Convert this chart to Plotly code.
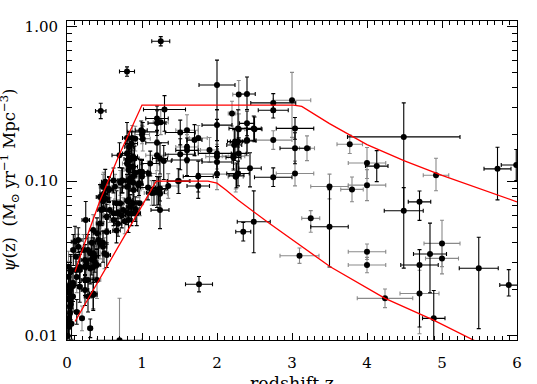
import numpy as np
import plotly.graph_objects as go

# ---- data points: redshift, SFR density, x-error, y-errors (dex up/down), group (0 black, 1 grey bars)
Z = [2.00, 2.29, 2.40, 2.20, 2.75, 3.00, 2.75, 2.40, 2.50, 2.29, 3.04, 2.75, 2.40, 2.27, 2.23, 3.04, 3.20, 2.29, 2.22, 2.44,
     2.28, 2.25, 2.75, 3.04, 2.00, 1.51, 1.60, 1.51, 1.60, 1.60, 1.70, 1.75, 1.75, 1.90, 2.00, 2.00, 2.00, 2.00, 2.28, 2.40,
     2.49, 1.49, 1.75, 1.35,
     1.25, 1.30, 1.01, 1.20, 1.25, 1.20, 1.20, 1.20, 1.24, 1.29, 1.22, 1.13, 1.08, 1.20, 1.24, 1.11, 1.09, 1.00, 1.01, 0.99, 0.97,
     0.91, 0.86, 0.83, 0.88, 0.80, 0.87, 0.82, 0.84, 0.91, 0.84, 0.83, 0.74, 0.71, 0.70, 0.62, 0.64, 0.80, 0.89, 0.95, 0.71,
     0.81, 0.80, 0.91, 0.97, 0.93, 0.73, 0.77, 0.86, 0.66, 0.62, 0.70,
     0.80, 0.45,
     0.56, 0.49, 0.49, 0.52, 0.51, 0.48, 0.56, 0.44, 0.48, 0.46, 0.53, 0.57, 0.53, 0.40, 0.48, 0.42, 0.33, 0.48, 0.50, 0.53,
     0.35, 0.31, 0.28, 0.33, 0.37, 0.35, 0.40, 0.40, 0.35, 0.28, 0.31, 0.25, 0.26, 0.24, 0.24,
     0.107, 0.15, 0.15, 0.084, 0.12, 0.17, 0.17, 0.13, 0.20, 0.04, 0.03, 0.02, 0.04, 0.08, 0.04, 0.04, 0.12, 0.08, 0.05, 0.02,
     0.01, 0.02, 0.01,
     1.76, 2.35, 2.49, 3.77, 4.49, 4.00, 4.13, 4.00, 3.50, 3.80, 4.92, 5.74, 5.99, 4.70, 4.49, 3.25, 3.50, 5.00, 4.84, 5.00,
     4.70, 4.00, 4.00, 3.10, 5.49, 5.89, 4.24, 4.70, 4.89,
     0.84, 0.82, 0.73, 0.96, 0.82, 0.48, 0.66, 0.84, 0.68, 0.05, 0.13, 0.08, 0.80, 0.80, 0.88, 0.90, 0.88, 0.88, 1.16, 1.24,
     2.24, 2.26, 1.00, 1.00, 1.00, 1.60, 1.24, 1.48, 2.22, 2.25, 2.28, 0.44, 0.35, 0.62, 0.68, 0.75, 0.82, 0.88, 0.44, 0.37,
     0.24, 0.22, 0.17, 0.31, 0.28, 0.24, 0.35, 0.02, 0.03, 0.05, 0.01, 0.06]
SFR = [0.418, 0.363, 0.365, 0.273, 0.320, 0.333, 0.287, 0.236, 0.216, 0.216, 0.219, 0.184, 0.182, 0.178, 0.171, 0.163, 0.163, 0.151, 0.145, 0.121,
       0.112, 0.107, 0.106, 0.112, 0.230, 0.206, 0.213, 0.149, 0.166, 0.137, 0.184, 0.190, 0.107, 0.159, 0.151, 0.144, 0.133, 0.111, 0.219, 0.184,
       0.219, 0.100, 0.093, 0.093,
       0.80, 0.290, 0.208, 0.254, 0.240, 0.237, 0.177, 0.147, 0.140, 0.135, 0.0886, 0.0838, 0.091, 0.085, 0.065, 0.130, 0.112, 0.113, 0.188, 0.213, 0.115,
       0.188, 0.175, 0.166, 0.144, 0.190, 0.190, 0.139, 0.124, 0.113, 0.104, 0.099, 0.101, 0.0975, 0.147, 0.101, 0.092, 0.092, 0.0875, 0.094, 0.072,
       0.074, 0.063, 0.066, 0.072, 0.062, 0.060, 0.055, 0.062, 0.048, 0.056, 0.0094,
       0.51, 0.284,
       0.089, 0.095, 0.083, 0.077, 0.099, 0.092, 0.0877, 0.079, 0.066, 0.065, 0.059, 0.065, 0.047, 0.046, 0.040, 0.0416, 0.040, 0.0377, 0.0342, 0.0333,
       0.0342, 0.0342, 0.0359, 0.0312, 0.0302, 0.0279, 0.0287, 0.0230, 0.0184, 0.0180, 0.0112, 0.056, 0.0294, 0.0279, 0.0230,
       0.0406, 0.0377, 0.0416, 0.0359, 0.0325, 0.0279, 0.0208, 0.0143, 0.0130, 0.0155, 0.0115, 0.0241, 0.0198, 0.0180, 0.0170, 0.0140, 0.0267, 0.0220, 0.0267, 0.0210,
       0.0175, 0.0125, 0.0100,
       0.0216, 0.0471, 0.0546, 0.173, 0.193, 0.131, 0.125, 0.0942, 0.0923, 0.0884, 0.109, 0.120, 0.127, 0.0735, 0.0643, 0.0575, 0.0507, 0.0396, 0.0338, 0.0317,
       0.0287, 0.0350, 0.0287, 0.0330, 0.0274, 0.0213, 0.0175, 0.0188, 0.0130,
       0.137, 0.118, 0.101, 0.097, 0.0754, 0.074, 0.072, 0.068, 0.063, 0.026, 0.024, 0.021, 0.151, 0.130, 0.124, 0.140, 0.098, 0.107, 0.084, 0.083,
       0.180, 0.109, 0.200, 0.115, 0.107, 0.158, 0.0895, 0.100, 0.142, 0.107, 0.180, 0.0533, 0.0483, 0.062, 0.053, 0.065, 0.056, 0.072, 0.0396, 0.0325,
       0.0309, 0.0359, 0.0267, 0.0273, 0.0230, 0.0198, 0.0188, 0.028, 0.019, 0.016, 0.013, 0.012]
DZ = [0.24, 0.08, 0.11, 0.05, 0.30, 0.25, 0.20, 0.10, 0.10, 0.08, 0.25, 0.25, 0.12, 0.10, 0.10, 0.20, 0.10, 0.10, 0.15, 0.15,
      0.15, 0.10, 0.25, 0.25, 0.20, 0.20, 0.15, 0.20, 0.15, 0.20, 0.10, 0.12, 0.20, 0.12, 0.25, 0.15, 0.20, 0.25, 0.12, 0.12,
      0.10, 0.15, 0.15, 0.12,
      0.12, 0.28, 0.20, 0.15, 0.10, 0.12, 0.15, 0.15, 0.10, 0.10, 0.10, 0.10, 0.10, 0.10, 0.12, 0.12, 0.10, 0.10, 0.10, 0.08, 0.10,
      0.08, 0.08, 0.06, 0.06, 0.06, 0.06, 0.06, 0.05, 0.05, 0.05, 0.05, 0.05, 0.05, 0.10, 0.05, 0.05, 0.05, 0.05, 0.05, 0.05,
      0.05, 0.05, 0.05, 0.05, 0.05, 0.05, 0.05, 0.05, 0.05, 0.05, 0.30,
      0.10, 0.07,
      0.05, 0.05, 0.05, 0.05, 0.05, 0.05, 0.05, 0.05, 0.05, 0.05, 0.05, 0.05, 0.05, 0.05, 0.05, 0.05, 0.05, 0.05, 0.05, 0.05,
      0.05, 0.05, 0.05, 0.05, 0.05, 0.05, 0.05, 0.05, 0.05, 0.05, 0.03, 0.05, 0.05, 0.05, 0.05,
      0.05, 0.05, 0.05, 0.03, 0.03, 0.03, 0.03, 0.03, 0.03, 0.02, 0.02, 0.02, 0.02, 0.02, 0.02, 0.02, 0.03, 0.03, 0.02, 0.02,
      0.01, 0.02, 0.01,
      0.18, 0.10, 0.22, 0.17, 0.75, 0.25, 0.15, 0.25, 0.25, 0.15, 0.17, 0.18, 0.20, 0.15, 0.26, 0.12, 0.25, 0.24, 0.22, 0.22,
      0.25, 0.25, 0.25, 0.26, 0.26, 0.12, 0.37, 0.26, 0.15,
      0.06, 0.06, 0.05, 0.05, 0.05, 0.05, 0.05, 0.05, 0.05, 0.02, 0.03, 0.02, 0.06, 0.06, 0.06, 0.06, 0.05, 0.05, 0.10, 0.10,
      0.10, 0.10, 0.10, 0.08, 0.08, 0.15, 0.10, 0.15, 0.10, 0.10, 0.10, 0.05, 0.05, 0.05, 0.05, 0.05, 0.05, 0.05, 0.05, 0.05,
      0.05, 0.05, 0.03, 0.05, 0.05, 0.05, 0.05, 0.02, 0.02, 0.02, 0.01, 0.02]
UP_DEX = [0.16, 0.09, 0.11, 0.08, 0.06, 0.18, 0.05, 0.08, 0.08, 0.10, 0.07, 0.06, 0.08, 0.09, 0.10, 0.10, 0.08, 0.10, 0.08, 0.10,
          0.08, 0.08, 0.06, 0.08, 0.10, 0.08, 0.10, 0.10, 0.08, 0.10, 0.10, 0.08, 0.10, 0.08, 0.22, 0.08, 0.10, 0.10, 0.12, 0.10,
          0.08, 0.08, 0.08, 0.08,
          0.03, 0.09, 0.06, 0.08, 0.08, 0.08, 0.08, 0.10, 0.10, 0.10, 0.08, 0.08, 0.08, 0.10, 0.12, 0.08, 0.08, 0.08, 0.08, 0.06, 0.08,
          0.08, 0.08, 0.10, 0.08, 0.10, 0.08, 0.10, 0.10, 0.08, 0.08, 0.10, 0.08, 0.08, 0.08, 0.08, 0.08, 0.08, 0.08, 0.08, 0.10,
          0.10, 0.08, 0.08, 0.08, 0.08, 0.08, 0.08, 0.08, 0.08, 0.08, 0.27,
          0.03, 0.05,
          0.08, 0.08, 0.08, 0.08, 0.08, 0.08, 0.08, 0.08, 0.08, 0.10, 0.08, 0.08, 0.08, 0.10, 0.08, 0.10, 0.08, 0.10, 0.10, 0.08,
          0.10, 0.10, 0.10, 0.10, 0.10, 0.10, 0.10, 0.12, 0.10, 0.10, 0.06, 0.12, 0.10, 0.10, 0.10,
          0.10, 0.08, 0.08, 0.10, 0.10, 0.10, 0.10, 0.08, 0.08, 0.10, 0.10, 0.10, 0.10, 0.10, 0.10, 0.10, 0.10, 0.10, 0.10, 0.10,
          0.10, 0.10, 0.08,
          0.05, 0.06, 0.20, 0.06, 0.22, 0.10, 0.10, 0.10, 0.08, 0.08, 0.11, 0.14, 0.10, 0.07, 0.15, 0.05, 0.24, 0.15, 0.20, 0.10,
          0.10, 0.05, 0.05, 0.05, 0.20, 0.10, 0.06, 0.15, 0.18,
          0.08, 0.08, 0.08, 0.08, 0.10, 0.08, 0.08, 0.08, 0.08, 0.10, 0.10, 0.10, 0.08, 0.08, 0.08, 0.08, 0.08, 0.08, 0.08, 0.08,
          0.08, 0.08, 0.06, 0.08, 0.08, 0.08, 0.08, 0.08, 0.08, 0.08, 0.08, 0.10, 0.10, 0.08, 0.08, 0.08, 0.08, 0.08, 0.10, 0.10,
          0.10, 0.10, 0.10, 0.10, 0.10, 0.10, 0.10, 0.10, 0.10, 0.10, 0.10, 0.10]
DN_DEX = [0.16, 0.10, 0.10, 0.08, 0.06, 0.24, 0.05, 0.08, 0.08, 0.10, 0.07, 0.06, 0.08, 0.09, 0.10, 0.10, 0.08, 0.12, 0.08, 0.12,
          0.08, 0.10, 0.06, 0.08, 0.10, 0.08, 0.10, 0.10, 0.08, 0.10, 0.10, 0.08, 0.10, 0.08, 0.12, 0.08, 0.10, 0.10, 0.12, 0.10,
          0.08, 0.08, 0.08, 0.08,
          0.03, 0.14, 0.06, 0.08, 0.08, 0.08, 0.08, 0.10, 0.10, 0.12, 0.10, 0.08, 0.08, 0.10, 0.12, 0.08, 0.08, 0.08, 0.08, 0.06, 0.08,
          0.08, 0.08, 0.10, 0.08, 0.10, 0.08, 0.10, 0.10, 0.08, 0.08, 0.10, 0.08, 0.08, 0.08, 0.08, 0.08, 0.08, 0.08, 0.08, 0.10,
          0.10, 0.08, 0.08, 0.08, 0.08, 0.08, 0.08, 0.08, 0.08, 0.08, 0.00,
          0.03, 0.05,
          0.08, 0.08, 0.08, 0.08, 0.08, 0.08, 0.08, 0.08, 0.08, 0.10, 0.08, 0.08, 0.08, 0.10, 0.08, 0.10, 0.08, 0.10, 0.10, 0.08,
          0.10, 0.10, 0.10, 0.10, 0.10, 0.10, 0.10, 0.12, 0.10, 0.10, 0.06, 0.12, 0.10, 0.10, 0.10,
          0.10, 0.08, 0.08, 0.10, 0.10, 0.10, 0.10, 0.08, 0.08, 0.10, 0.10, 0.10, 0.10, 0.10, 0.10, 0.10, 0.10, 0.10, 0.10, 0.10,
          0.10, 0.10, 0.08,
          0.05, 0.06, 0.20, 0.06, 0.48, 0.10, 0.10, 0.10, 0.08, 0.08, 0.10, 0.20, 0.10, 0.12, 0.37, 0.09, 0.26, 0.15, 0.25, 0.10,
          0.40, 0.05, 0.05, 0.05, 0.39, 0.07, 0.06, 0.26, 0.20,
          0.08, 0.08, 0.08, 0.08, 0.10, 0.08, 0.08, 0.08, 0.08, 0.10, 0.10, 0.10, 0.08, 0.08, 0.08, 0.08, 0.08, 0.08, 0.08, 0.08,
          0.08, 0.08, 0.06, 0.08, 0.08, 0.08, 0.08, 0.08, 0.08, 0.08, 0.08, 0.10, 0.10, 0.08, 0.08, 0.08, 0.08, 0.08, 0.10, 0.10,
          0.10, 0.10, 0.10, 0.10, 0.10, 0.10, 0.10, 0.10, 0.10, 0.10, 0.10, 0.10]
GRP = [0, 1, 0, 1, 0, 1, 0, 0, 0, 1, 0, 1, 0, 1, 0, 0, 1, 0, 1, 0,
       0, 1, 0, 1, 0, 0, 1, 0, 1, 0, 0, 1, 0, 1, 0, 1, 0, 1, 0, 1,
       0, 0, 0, 1,
       0, 0, 0, 0, 1, 0, 0, 1, 0, 0, 0, 1, 0, 0, 0, 0, 1, 0, 1, 0, 0,
       1, 0, 0, 0, 0, 1, 0, 0, 1, 0, 0, 0, 1, 0, 0, 1, 0, 0, 1, 0,
       1, 0, 0, 1, 0, 0, 1, 0, 0, 1, 1,
       0, 0,
       0, 1, 0, 0, 0, 1, 0, 0, 1, 0, 0, 1, 0, 0, 1, 0, 0, 0, 1, 0,
       0, 1, 0, 0, 1, 0, 0, 1, 0, 0, 0, 0, 1, 0, 0,
       0, 1, 0, 0, 1, 0, 0, 0, 1, 0, 0, 1, 0, 0, 1, 0, 0, 1, 0, 0,
       1, 0, 0,
       0, 0, 0, 1, 0, 1, 0, 1, 1, 1, 1, 0, 0, 0, 0, 1, 0, 1, 0, 1,
       0, 1, 1, 1, 0, 0, 1, 1, 0,
       0, 1, 0, 0, 0, 1, 0, 0, 1, 0, 1, 0, 0, 1, 0, 0, 1, 0, 0, 1,
       0, 0, 1, 0, 1, 0, 0, 1, 0, 1, 0, 0, 1, 0, 0, 1, 0, 0, 1, 0,
       0, 1, 0, 0, 1, 0, 0, 1, 0, 0, 1, 0]

# ---- red envelope curves
UPPER_Z = [0.107, 0.25, 0.44, 0.70, 1.00, 3.02, 3.13, 3.50, 4.00, 4.50, 5.00, 5.50, 6.00]
UPPER_V = [0.026, 0.0417, 0.075, 0.149, 0.31, 0.31, 0.304, 0.235, 0.172, 0.135, 0.109, 0.089, 0.0735]
LOWER_Z = [0.107, 1.19, 1.88, 2.00, 2.12, 2.28, 2.71, 3.10, 3.51, 4.24, 4.88, 5.44]
LOWER_V = [0.0124, 0.100, 0.100, 0.097, 0.0875, 0.0754, 0.0528, 0.0385, 0.028, 0.0175, 0.0127, 0.0093]

z = np.array(Z, float)
v = np.array(SFR, float)
dz = np.array(DZ, float)
up = v * (10 ** np.array(UP_DEX) - 1)
dn = v * (1 - 10 ** -np.array(DN_DEX))
grp = np.array(GRP)

fig = go.Figure()
for g, col in [(1, "#8a8a8a"), (0, "#000000")]:
    m = grp == g
    fig.add_trace(go.Scatter(
        x=z[m], y=v[m], mode="markers",
        marker=dict(color="black", size=6),
        error_x=dict(type="data", array=dz[m], color=col, thickness=1.1, width=2),
        error_y=dict(type="data", array=up[m], arrayminus=dn[m], color=col, thickness=1.1, width=2),
        showlegend=False, hoverinfo="skip"))

for zz, vv in [(UPPER_Z, UPPER_V), (LOWER_Z, LOWER_V)]:
    fig.add_trace(go.Scatter(x=zz, y=vv, mode="lines",
                             line=dict(color="#ff0000", width=1.3),
                             showlegend=False, hoverinfo="skip"))

FONT = "DejaVu Serif"
fig.update_layout(
    width=537, height=384,
    margin=dict(l=67, r=20, t=21, b=44),
    paper_bgcolor="white", plot_bgcolor="white",
    font=dict(family=FONT, size=15, color="black"),
    xaxis=dict(range=[0, 6], dtick=1, tick0=0, showgrid=False, zeroline=False,
               showline=True, linecolor="black", linewidth=1, mirror="allticks",
               ticks="inside", ticklen=7, tickcolor="black", ticklabelstandoff=9,
               minor=dict(dtick=0.1, ticks="inside", ticklen=4, tickcolor="black", showgrid=False)),
    yaxis=dict(type="log", range=[-2.026, 0.034], dtick=1, tickformat=".2f",
               showgrid=False, zeroline=False,
               showline=True, linecolor="black", linewidth=1, mirror="allticks",
               ticks="inside", ticklen=10, tickcolor="black", ticklabelstandoff=5,
               minor=dict(dtick="D1", ticks="inside", ticklen=5, tickcolor="black", showgrid=False)),
    annotations=[
        dict(text="redshift z", xref="paper", yref="paper", x=0.5, y=0,
             xanchor="center", yanchor="top", yshift=-31, showarrow=False,
             font=dict(family=FONT, size=17.5)),
        dict(text="<i>ψ</i>(z)  (M<sub>⊙</sub> yr<sup>−1</sup> Mpc<sup>−3</sup>)",
             xref="paper", yref="paper", x=0, y=0.5, xanchor="center", yanchor="middle",
             xshift=-58, yshift=0, textangle=-90, showarrow=False,
             font=dict(family=FONT, size=16.5)),
    ],
)

fig.write_html("out.html", config={"displayModeBar": False},
               post_script="document.body.style.margin='0';document.body.style.overflow='hidden';")
